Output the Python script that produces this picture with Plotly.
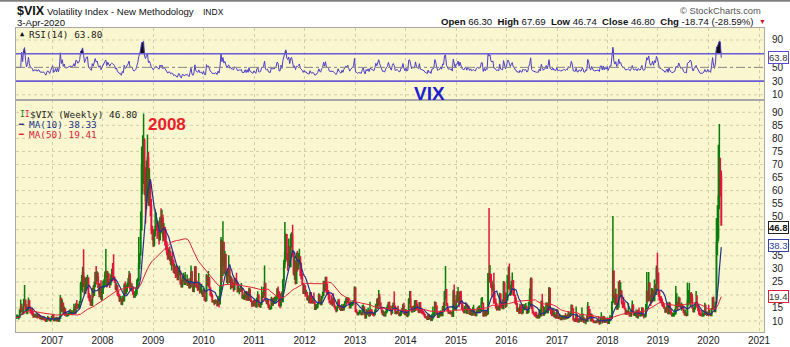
import numpy as np
import pandas as pd
import plotly.graph_objects as go

# ---------------- weekly VIX data (read / estimated from the chart) ----------------
c2006 = [11.2,11.4,11.6,11.6, 11.6,14.2,15.4,14.0, 12.9,16.5,18.0,15.2,13.1, 14.0,17.7,15.3,13.3,
         13.3,13.0,11.6,12.2, 11.9,12.2,11.5,12.0,11.9, 11.1,11.2,10.9,11.1, 11.0,10.5,10.0,10.7,
         11.0,10.6,10.2,10.9,11.6]
h2006 = [12.2,12.0,12.5,12.4, 12.0,14.5,18.3,16.6, 15.2,18.5,23.8,18.2,16.4, 15.5,19.0,18.2,15.6,
         14.5,14.8,13.4,12.8, 12.6,13.0,12.6,12.8,12.8, 12.2,11.9,11.6,11.8, 11.9,11.5,10.7,11.1,
         12.0,11.6,11.1,11.2,11.8]
l2006 = [10.6,10.9,10.9,11.1, 10.6,11.2,13.0,13.5, 12.5,13.0,15.8,14.2,12.8, 12.6,14.0,14.6,13.0,
         12.5,12.0,11.3,11.5, 11.3,11.4,11.0,11.1,11.2, 10.6,10.6,10.3,10.5, 10.3,10.1,9.6,9.9,
         10.4,10.2,9.9,9.7,10.7]

c2007 = [12.0,10.2,10.4,11.1, 10.1,11.1,10.0,11.2, 18.6,14.1,16.8,12.9,14.6, 12.2,12.0,12.1,12.5,
         12.9,13.2,12.8,13.0, 13.1,14.3,13.2,16.4,16.2, 15.2,15.6,17.2,24.2, 25.2,28.4,25.0,20.7,23.4,
         26.2,26.5,19.0,18.0, 17.5,16.1,22.0,19.9, 23.2,28.5,25.5,26.8,22.9, 20.8,22.5,18.5,20.7]
h2007 = [12.8,12.1,11.0,11.5, 11.6,11.5,10.8,11.8, 20.0,18.6,18.3,16.6,15.6, 14.8,13.5,13.0,13.3,
         13.9,14.6,14.2,14.2, 13.8,16.6,15.9,16.8,18.1, 16.5,16.6,17.8,25.0, 27.6,30.8,37.5,27.1,26.5,
         26.9,27.7,26.0,20.7, 20.0,18.4,22.7,23.7, 25.2,28.9,31.1,29.1,28.6, 24.6,24.4,25.6,22.9]
l2007 = [10.9,10.0,10.0,10.3, 10.0,10.0,9.9,10.2, 12.0,13.6,13.6,12.6,12.5, 12.1,11.9,11.8,11.9,
         12.2,12.4,12.5,12.2, 12.8,13.3,12.6,13.0,15.0, 14.5,15.1,14.9,17.4, 21.7,20.9,23.0,20.2,20.5,
         21.9,23.5,18.8,17.6, 15.9,15.8,16.3,19.0, 20.3,23.0,24.0,25.5,22.8, 19.1,19.1,18.4,17.7]

c2008 = [23.2,23.7,27.2,29.0, 24.0,28.0,25.0,24.1,26.5, 27.5,27.0,26.6,25.7, 22.5,23.5,20.0,19.7,
         18.2,18.3,16.5,19.0,17.8, 23.6,20.7,22.7,23.4, 24.9,27.5,22.5,22.9, 22.6,20.7,19.5,19.8,20.6,
         23.1,25.7,32.1,35.7, 45.1,70.0,70.3,79.1,59.9, 56.1,66.3,72.7,55.3, 59.9,54.3,44.9,43.4]
h2008 = [25.4,26.0,29.0,37.6, 27.8,29.1,27.6,26.1,27.8, 30.0,32.2,35.6,27.1, 24.9,24.5,23.3,21.6,
         20.5,19.6,18.6,19.7,19.4, 24.4,25.2,23.7,24.6, 26.5,29.2,28.5,24.7, 24.5,23.1,21.0,21.5,22.5,
         25.9,26.5,42.2,36.0, 52.0,76.9,81.2,89.5,80.1, 69.0,71.5,81.5,74.8, 68.6,63.5,56.8,46.5]
l2008 = [20.5,22.6,23.7,27.0, 22.9,24.8,24.2,22.7,23.6, 24.8,25.3,25.5,24.7, 21.8,21.4,19.8,19.1,
         17.3,17.6,16.3,16.1,17.5, 18.5,20.1,20.2,21.1, 23.0,23.8,21.6,21.5, 21.2,20.0,18.8,18.8,19.5,
         20.2,22.5,25.2,29.9, 35.0,44.6,58.6,62.5,58.2, 47.4,52.9,57.5,54.2, 54.0,50.3,43.4,41.0]

c2009 = [39.2,42.8,46.1,47.3,44.8, 43.4,41.2,49.3,46.4, 49.3,42.4,45.9,42.6, 39.7,36.5,33.9,35.8,
         35.3,32.1,33.1,32.6,28.9, 29.6,28.2,27.0,25.9, 29.0,29.0,24.3,23.1,25.9, 25.9,24.1,25.0,24.8,
         25.3,24.0,22.8,25.6, 28.7,23.1,21.4,23.1,30.7, 24.2,23.4,22.2,24.5, 21.3,21.6,21.7,19.5]
h2009 = [45.3,45.1,52.7,51.6,47.5, 48.4,44.6,50.0,53.2, 52.7,50.7,47.6,45.7, 45.2,40.6,38.4,37.8,
         38.6,36.9,34.8,36.6,33.6, 32.0,31.2,31.5,30.6, 29.8,31.2,29.4,25.9,27.4, 28.5,27.8,28.8,26.1,
         27.8,26.3,24.8,26.6, 31.3,29.3,23.6,25.2,31.0, 29.0,25.5,24.0,28.4, 24.4,23.4,24.3,21.0]
l2009 = [38.4,38.6,43.4,44.7,41.4, 42.1,39.3,42.0,44.2, 43.5,40.5,40.8,39.0, 37.1,35.2,33.5,33.9,
         33.0,31.4,29.4,31.0,28.4, 28.0,26.5,26.8,25.7, 25.9,27.5,24.1,23.0,23.4, 25.0,23.8,24.5,24.6,
         23.4,23.5,22.8,22.7, 25.8,22.9,21.1,21.0,23.0, 23.0,22.6,21.5,21.8, 20.5,20.8,20.2,19.3]

c2010 = [21.7,18.1,17.9,27.3,24.6, 26.1,22.7,20.0,19.5, 17.4,17.6,16.9,17.8, 17.5,16.1,18.4,16.6,22.1,
         40.9,31.2,40.1,32.1, 35.5,28.8,25.1,28.5, 30.1,24.9,26.3,23.5,23.5, 22.1,26.2,25.5,24.5,
         21.3,21.9,22.0,21.7, 22.5,18.9,19.1,19.1,21.2, 18.3,20.6,18.0,22.2, 18.0,17.6,16.1,16.0,17.8]
h2010 = [22.6,20.1,19.3,28.0,27.3, 29.2,27.0,22.9,21.3, 20.6,18.1,18.1,18.4, 18.3,17.5,19.7,18.5,23.6,
         42.2,35.0,48.2,35.6, 36.8,35.0,27.3,29.8, 35.2,30.2,27.5,27.0,26.0, 24.8,26.6,26.0,28.5,
         24.8,23.5,22.8,23.0, 24.6,22.8,20.1,21.0,21.4, 21.5,21.3,21.3,22.8, 22.0,18.9,17.6,16.9,18.1]
l2010 = [19.9,18.0,17.3,17.9,23.5, 23.1,22.6,19.8,19.1, 17.4,17.1,16.1,16.4, 16.7,15.6,16.0,15.2,16.9,
         20.1,24.9,27.3,27.9, 27.9,28.0,24.6,24.2, 27.0,24.6,22.1,22.6,22.7, 21.2,22.0,24.4,23.8,
         20.9,21.3,20.3,21.1, 21.1,18.5,18.4,18.1,19.0, 17.9,18.2,17.9,19.1, 17.8,17.6,15.4,15.6,15.8]

c2011 = [17.1,15.5,18.5,20.0, 15.9,15.7,16.4,19.2, 19.1,20.1,24.4,17.9, 17.4,17.9,15.3,14.7,14.8,
         18.4,17.1,17.4,17.1, 17.9,18.9,21.9,21.1, 15.9,15.9,20.0,17.5,25.3, 32.0,36.4,43.1,35.6,
         33.9,38.5,30.9,41.3,43.0, 36.3,28.2,31.3,24.5, 30.2,30.0,32.0,34.5, 27.5,26.3,24.3,20.7,23.4]
h2011 = [18.2,17.3,19.0,21.4, 19.6,16.5,17.2,23.2, 21.2,23.0,31.3,22.8, 17.9,18.4,18.0,16.3,15.6,
         19.3,18.9,18.8,19.2, 19.5,19.4,22.7,23.2, 18.5,17.5,20.8,21.4,26.1, 33.5,48.0,43.6,42.4,
         35.0,41.6,38.8,43.5,44.0, 46.9,36.9,34.8,33.3, 36.3,36.9,36.1,37.7, 34.4,32.3,28.2,24.0,24.1]
l2011 = [16.7,15.3,15.3,17.1, 15.9,15.2,15.0,16.4, 17.2,19.0,19.5,17.4, 16.5,16.1,15.3,14.3,14.3,
         15.7,15.8,15.9,16.8, 16.9,17.4,18.2,19.5, 15.9,14.9,16.1,17.2,17.6, 22.6,30.2,32.6,33.4,
         29.3,31.1,30.5,33.0,38.2, 34.6,27.5,25.8,24.0, 27.3,29.0,29.8,31.6, 27.5,25.9,24.1,20.4,20.6]

c2012 = [20.6,20.9,18.3,18.5, 17.1,20.8,17.8,17.3, 18.0,17.1,14.5,15.0,15.5, 16.7,19.6,17.4,16.3,
         19.2,19.9,25.1,21.8, 26.7,21.2,21.1,20.1,17.1, 17.1,16.7,17.1,16.7, 15.6,14.7,14.0,15.2,17.5,
         15.6,14.5,14.1,15.7, 14.3,16.1,17.1,18.0, 17.6,18.6,16.9,15.1,16.0, 16.6,17.0,17.8,22.7]
h2012 = [23.2,22.0,21.1,19.4, 20.0,21.1,21.1,18.5, 19.6,20.9,17.1,16.4,16.5, 17.2,20.7,20.4,18.5,
         19.6,21.2,25.4,24.4, 27.0,26.3,24.4,21.9,20.6, 18.0,19.9,18.9,20.7, 18.3,16.0,14.8,16.0,18.4,
         18.5,16.0,14.9,16.5, 15.8,16.6,17.7,18.8, 19.2,19.2,18.8,17.0,17.6, 17.3,17.5,18.1,23.3]
l2012 = [19.3,20.1,18.2,17.7, 17.0,17.0,16.6,16.7, 16.6,17.0,14.3,14.3,14.7, 15.1,16.8,17.0,16.1,
         16.4,18.6,20.3,20.9, 22.4,20.6,20.0,18.2,17.0, 16.2,16.3,15.7,16.2, 15.1,14.3,13.3,13.7,15.9,
         15.5,14.5,13.9,14.2, 14.0,14.4,15.3,17.1, 16.2,16.9,16.5,15.1,15.1, 15.9,15.8,16.2,17.6]

c2013 = [13.8,13.4,12.5,12.9, 12.9,13.0,12.5,14.2, 15.4,12.6,11.3,13.6,12.7, 13.9,12.1,14.0,13.6,
         12.9,12.6,12.5,13.8,16.3, 15.1,17.2,18.9,16.9, 14.9,14.0,12.5,12.7, 12.0,13.4,14.4,14.8,17.0,
         15.4,14.2,13.1,15.5, 16.7,15.7,13.0,13.1, 13.5,12.9,12.2,12.3,13.7, 13.8,15.8,13.8,12.5]
h2013 = [18.6,14.6,13.8,13.5, 14.3,14.2,13.2,16.1, 16.3,15.2,12.0,14.6,14.1, 15.2,14.0,17.4,14.6,
         14.5,13.2,13.2,14.4,16.3, 18.6,18.7,21.9,20.5, 17.2,15.0,14.0,14.0, 13.6,13.8,15.5,16.3,17.2,
         17.5,15.9,14.2,16.1, 17.1,21.3,15.6,13.8, 15.3,15.9,13.5,13.3,14.3, 15.0,16.6,17.0,13.8]
l2013 = [13.6,13.0,12.3,12.1, 12.6,12.6,12.3,12.3, 13.2,12.5,10.9,11.8,12.5, 12.1,11.6,12.5,12.9,
         12.3,11.9,11.7,12.1,13.6, 14.9,15.2,15.8,15.5, 14.5,13.0,12.2,11.8, 11.8,11.8,12.9,13.4,14.4,
         14.4,13.8,12.2,12.9, 15.6,15.0,12.9,12.5, 12.9,12.7,12.0,11.7,12.1, 12.8,13.6,12.7,12.2]

c2014 = [13.8,12.1,12.4,18.1,18.4, 15.3,13.6,14.7,14.0, 14.1,17.8,15.0,14.4, 13.9,17.0,13.4,13.3,
         12.9,12.9,12.4,11.4,11.4, 10.7,12.2,10.9,11.3, 10.3,12.1,12.1,12.7, 17.0,15.8,13.2,11.5,12.0,
         12.1,13.3,12.1,14.9, 14.6,21.2,22.0,16.1,14.0, 13.1,13.3,12.9,13.3, 11.8,21.1,16.5,14.5]
h2014 = [14.6,13.9,12.9,18.7,21.5, 21.5,15.4,15.7,16.0, 18.0,17.9,17.6,16.7, 14.4,17.3,17.3,15.2,
         14.7,13.9,13.4,12.6,11.9, 11.7,12.6,12.7,12.2, 11.4,12.8,15.6,13.3, 17.6,17.3,14.4,13.0,12.4,
         13.5,14.0,13.5,15.8, 17.2,21.3,31.1,20.8,16.9, 15.0,13.5,14.0,13.6, 13.8,22.0,24.0,15.7]
l2014 = [13.1,11.6,11.5,12.6,16.5, 15.1,13.5,13.6,13.7, 13.5,14.3,14.6,14.4, 13.1,13.0,13.3,13.0,
         12.6,12.4,11.6,11.4,11.0, 10.7,10.8,10.6,10.9, 10.3,10.6,10.6,11.8, 13.0,14.8,12.8,11.4,11.3,
         11.9,11.8,11.8,12.3, 13.9,14.2,18.2,15.8,13.9, 13.1,12.8,12.5,12.7, 11.8,12.6,16.2,14.3]

c2015 = [17.8,17.6,20.9,16.7,21.0, 17.3,14.7,14.3,13.3, 15.2,16.0,13.0,15.1, 14.7,12.6,13.9,12.3,
         12.7,12.9,12.4,12.1,13.8, 14.2,13.8,14.0,14.0, 16.8,16.8,12.0,13.7,12.1, 13.4,12.8,28.0,26.1,
         27.8,23.2,22.3,23.6, 17.1,17.1,15.1,14.5,15.1, 14.3,20.1,15.5,15.1, 14.8,24.4,20.7,15.7]
h2015 = [20.0,21.5,23.0,21.0,21.4, 21.6,17.8,16.3,14.6, 15.8,17.2,16.8,16.2, 16.0,14.5,14.6,14.4,
         15.3,16.2,14.6,13.0,13.9, 15.3,15.8,16.1,14.6, 18.9,19.2,14.2,14.2,14.3, 13.9,14.2,28.4,53.3,
         31.5,27.9,24.5,25.5, 28.5,20.8,18.6,16.9,15.8, 16.0,20.8,20.7,16.5, 18.4,25.3,25.2,19.2]
l2015 = [14.4,17.0,17.6,15.3,16.4, 16.7,15.0,13.6,13.0, 13.0,14.8,13.0,13.5, 14.2,12.6,12.5,12.2,
         12.5,12.5,12.4,11.8,12.3, 13.6,13.0,13.4,13.6, 15.9,16.4,12.1,11.8,12.0, 11.8,12.2,13.3,25.0,
         24.6,22.7,19.2,21.3, 16.6,16.7,14.9,13.9,14.3, 14.1,14.6,15.1,14.9, 14.6,15.8,16.9,15.0]

c2016 = [18.2,27.0,27.0,22.3,20.2, 23.4,25.4,20.5,19.8, 16.9,16.5,14.0,14.7, 13.1,15.4,13.6,13.2,15.7,
         14.7,15.0,15.2,13.1, 13.5,17.0,19.4,25.8, 14.8,13.2,12.7,12.0,11.9, 11.4,11.6,11.3,13.7,
         12.0,17.5,15.4,12.3,13.3, 13.5,16.1,13.3,16.2, 22.5,14.2,12.9,12.3, 14.1,11.8,12.2,11.4,14.0]
h2016 = [20.6,27.6,30.9,32.1,23.9, 25.3,28.6,25.6,22.6, 19.9,19.0,16.9,15.2, 15.0,16.6,16.3,14.4,16.5,
         16.4,16.4,16.9,15.9, 14.6,17.3,22.5,26.7, 26.7,16.2,13.9,13.2,13.6, 13.6,12.4,13.0,14.5,
         14.4,17.9,20.5,15.9,15.5, 14.2,17.2,16.9,17.2, 23.0,22.5,14.7,13.2, 14.9,14.2,13.4,12.0,14.6]
l2016 = [15.4,19.5,22.4,22.0,19.6, 20.4,23.2,19.7,19.5, 16.7,16.1,13.5,14.1, 13.0,14.0,13.2,12.5,13.3,
         14.4,14.1,14.2,13.0, 12.8,13.5,16.2,15.7, 14.7,13.1,12.5,11.7,11.8, 11.2,11.0,11.1,11.3,
         11.6,11.7,14.9,12.0,12.5, 12.7,13.0,13.0,13.3, 15.8,14.0,12.5,11.8, 12.1,11.5,11.3,10.9,11.5]

c2017 = [11.3,11.2,11.5,10.6, 11.0,10.9,11.5,11.5, 11.0,11.7,11.3,13.0,12.4, 12.9,16.0,14.6,10.8,
         10.6,10.4,12.0,9.8, 9.75,10.7,10.4,10.0,11.2, 11.2,9.5,9.4,10.3, 10.0,15.5,14.3,11.3,
         10.1,12.1,10.2,9.6,9.5, 9.65,9.6,10.0,9.8, 9.1,11.3,11.4,9.7, 11.4,9.6,10.5,9.9,11.0]
h2017 = [14.1,12.1,12.8,11.6, 12.2,12.1,12.2,12.2, 13.1,12.3,12.6,13.5,13.2, 13.3,16.3,15.9,12.9,
         11.1,11.0,15.6,12.8, 10.5,11.2,12.6,10.9,15.2, 12.9,11.6,9.9,11.1, 12.1,17.3,15.6,14.0,
         13.0,12.9,12.2,10.3,10.1, 10.2,10.3,10.7,11.9, 10.1,11.5,13.4,10.6, 12.0,11.9,11.4,10.3,11.0]
l2017 = [10.9,10.7,11.0,10.4, 10.6,10.5,10.6,10.6, 10.6,10.9,11.1,11.1,11.5, 11.6,12.8,13.9,10.1,
         9.6,9.6,9.7,9.7, 9.4,9.4,10.1,9.8,10.3, 10.5,9.4,9.3,8.8, 9.7,10.7,11.7,11.3,
         10.1,10.4,9.9,9.2,9.3, 9.2,9.2,9.5,9.4, 8.6,9.2,10.5,9.1, 9.4,9.3,9.5,9.3,9.3]

c2018 = [9.2,10.2,11.3,11.1, 17.3,29.1,19.5,16.5, 19.6,14.6,15.8,24.9,20.0, 21.5,17.4,16.9,15.4,
         14.8,12.7,13.4,13.2, 13.5,12.2,12.0,13.8,16.1, 13.4,12.2,12.9,13.0, 11.6,13.2,12.6,12.0,12.9,
         14.9,12.1,11.7,12.1, 14.8,21.3,19.9,24.2, 19.3,17.4,18.1,21.5,18.1, 23.2,21.6,30.1,28.3]
h2018 = [9.7,10.4,12.3,11.6, 17.3,50.3,29.1,20.6, 22.5,20.4,17.0,25.0,25.7, 25.0,21.6,17.4,19.3,
         17.4,14.9,14.2,14.1, 16.8,13.3,13.2,14.7,17.9, 16.4,13.4,13.3,14.4, 14.3,14.3,15.2,12.9,13.7,
         15.3,15.0,12.5,12.4, 16.5,28.8,21.3,28.8, 25.0,20.3,22.7,22.5,21.5, 25.9,24.1,31.3,36.2]
l2018 = [8.9,9.2,10.3,10.4, 11.0,16.8,18.9,16.2, 16.6,14.6,14.6,15.0,19.3, 19.2,16.3,15.0,15.4,
         14.4,12.6,12.6,12.4, 12.9,11.6,11.7,11.6,14.2, 12.4,11.9,12.1,11.4, 11.2,10.9,12.0,11.7,11.8,
         12.7,11.8,11.0,11.5, 11.4,14.8,17.2,17.6, 17.7,15.8,17.2,18.4,17.5, 17.6,20.2,20.0,24.0]

c2019 = [21.4,18.2,17.8,17.4, 16.1,15.7,14.9,13.5, 14.6,16.1,12.9,16.5,13.7, 12.8,12.0,12.1,12.7,
         12.9,16.0,16.0,15.9,18.7, 16.3,15.3,15.4,15.1, 13.3,12.4,12.5,12.2, 17.6,18.0,18.5,19.9,19.0,
         15.0,13.7,15.3,16.3, 17.0,15.6,14.3,12.7, 12.3,12.1,12.05,12.3,12.6, 13.6,12.6,12.5,13.4]
h2019 = [28.5,21.0,19.5,19.5, 18.6,17.3,16.4,14.6, 15.5,17.2,16.2,17.4,17.2, 14.4,13.3,13.3,13.3,
         14.7,23.4,20.7,17.4,19.4, 18.9,16.5,17.1,16.3, 16.0,14.1,14.4,13.3, 24.8,21.9,24.6,20.8,21.1,
         20.5,15.1,15.4,17.1, 21.5,19.9,16.4,15.0, 14.4,12.9,14.2,13.9,13.0, 17.0,16.3,13.6,13.5]
l2019 = [19.3,18.0,16.9,16.9, 15.6,15.2,14.7,13.3, 14.0,14.3,12.9,12.8,13.6, 12.4,11.9,11.8,11.6,
         12.2,13.8,15.1,14.2,15.4, 15.3,14.7,13.9,14.3, 13.0,12.3,12.0,11.7, 15.2,16.0,16.6,15.5,17.0,
         14.8,13.5,13.3,14.3, 16.5,15.1,13.8,12.6, 12.2,11.8,12.1,12.1,11.7, 12.7,12.3,11.9,12.1]

c2020 = [12.5,12.6,12.1,14.6,18.8, 15.5,13.7,17.1,40.1, 41.9,57.8,66.0,65.5, 46.8]
h2020 = [16.2,14.2,12.9,15.0,19.0, 19.4,15.6,17.4,49.5, 54.4,77.6,85.5,72.6, 67.7]
l2020 = [11.8,12.4,11.8,12.1,16.2, 14.5,13.4,13.9,19.0, 35.2,40.6,52.8,57.8, 46.7]

year_starts = ["2006-04-07", "2007-01-01", "2008-01-01", "2009-01-01", "2010-01-01", "2011-01-01",
               "2012-01-01", "2013-01-01", "2014-01-01", "2015-01-01", "2016-01-01", "2017-01-01",
               "2018-01-01", "2019-01-01", "2020-01-01"]
closes = [c2006, c2007, c2008, c2009, c2010, c2011, c2012, c2013, c2014, c2015, c2016, c2017, c2018, c2019, c2020]
highs = [h2006, h2007, h2008, h2009, h2010, h2011, h2012, h2013, h2014, h2015, h2016, h2017, h2018, h2019, h2020]
lows = [l2006, l2007, l2008, l2009, l2010, l2011, l2012, l2013, l2014, l2015, l2016, l2017, l2018, l2019, l2020]

header_left = "$VIX"
header_name = "Volatility Index - New Methodology"
header_exch = "INDX"
header_date = "3-Apr-2020"
quote = dict(Open="66.30", High="67.69", Low="46.74", Close="46.80", Chg="-18.74 (-28.59%)")
legend_price = "46.80"
legend_ma10 = "38.33"
legend_ma50 = "19.41"
legend_rsi = "63.80"
grid_main = list(range(10, 95, 5))
labels_main = [v for v in grid_main if v not in (20, 40, 45)]   # hidden behind the value flags
grid_rsi = [10, 30, 50, 70, 90]
labels_rsi = [10, 30, 50, 90]                                   # 70 hidden behind the RSI flag

# ---------------- assemble ----------------
dates, C, H, L = [], [], [], []
for s, c, h, l in zip(year_starts, closes, highs, lows):
    d = pd.date_range(start=s, periods=len(c), freq="W-FRI")
    dates.extend(d)
    C.extend(c); H.extend(h); L.extend(l)
dates = pd.DatetimeIndex(dates)
close = pd.Series(C, index=dates, dtype=float)
high = np.maximum(np.array(H, float), close.values)
low = np.minimum(np.array(L, float), close.values)
openp = close.shift(1).fillna(close.iloc[0]).values

ma10 = close.rolling(10, min_periods=1).mean()
ma50 = close.rolling(50, min_periods=1).mean()

delta = close.diff().fillna(0)
gain = delta.clip(lower=0)
loss = -delta.clip(upper=0)
ag = gain.ewm(alpha=1/14, adjust=False).mean()
al = loss.ewm(alpha=1/14, adjust=False).mean()
rsi = 100 - 100 / (1 + ag / al.replace(0, np.nan))
rsi = rsi.fillna(50)

GREEN = "#0A7D0A"
RED = "#E0143C"
BG = "#FAF7D0"
GRID = "#D2CEA8"
FRAME = "#A8A8A8"
PURPLE = "#6A5BD6"
RSI_LINE = "#4B3CC8"

fig = go.Figure()

# RSI panel
fig.add_trace(go.Scatter(x=dates, y=[70] * len(dates), mode="lines", line=dict(width=0, color="rgba(0,0,0,0)"),
                         xaxis="x2", yaxis="y2", hoverinfo="skip"))
fig.add_trace(go.Scatter(x=dates, y=np.maximum(rsi.values, 70), mode="lines", line=dict(width=0, color="rgba(0,0,0,0)"),
                         fill="tonexty", fillcolor="#111111", xaxis="x2", yaxis="y2", hoverinfo="skip"))
fig.add_trace(go.Scatter(x=dates, y=rsi.values, mode="lines", line=dict(width=1, color=RSI_LINE),
                         xaxis="x2", yaxis="y2"))

# price candles
fig.add_trace(go.Candlestick(x=dates, open=openp, high=high, low=low, close=close.values,
                             increasing=dict(line=dict(color=GREEN, width=1.5), fillcolor=GREEN),
                             decreasing=dict(line=dict(color=RED, width=1.5), fillcolor=RED),
                             whiskerwidth=0, xaxis="x", yaxis="y"))
fig.add_trace(go.Scatter(x=dates, y=ma10.values, mode="lines", line=dict(width=1.2, color="#22308A"),
                         xaxis="x", yaxis="y"))
fig.add_trace(go.Scatter(x=dates, y=ma50.values, mode="lines", line=dict(width=1, color="#E0203A"),
                         xaxis="x", yaxis="y"))

# plot area geometry in pixels: x 16..764, y 28..332
X0, X1, Y0, Y1 = 16, 764, 28, 332
def px(xp, yp):
    return (xp - X0) / (X1 - X0), (Y1 - yp) / (Y1 - Y0)

TICKFONT = dict(family="Liberation Sans, Arial, sans-serif", size=10, color="#222222")
axis_common = dict(showgrid=False, showline=True, mirror=True, automargin=False,
                   linecolor=FRAME, linewidth=1, zeroline=False, ticks="", fixedrange=True)
xgrid = dict(showgrid=True, gridcolor=GRID, griddash="dot", gridwidth=1)
axis_nogrid = {k: v for k, v in axis_common.items() if k != "showgrid"}
xrange = ["2006-04-15", "2021-02-06"]

fig.update_layout(
    width=790, height=347, margin=dict(l=X0, r=790 - X1, t=Y0, b=347 - Y1),
    paper_bgcolor="white", plot_bgcolor=BG, showlegend=False,
    xaxis=dict(domain=[0, 1], anchor="y", type="date", range=xrange, rangeslider=dict(visible=False),
               dtick="M12", tick0="2007-01-01", tickformat="%Y", tickfont=TICKFONT, ticklabelstandoff=-1,
               **xgrid, **axis_nogrid),
    xaxis2=dict(domain=[0, 1], anchor="y2", type="date", range=xrange, matches="x", showticklabels=False,
                dtick="M12", tick0="2007-01-01", **xgrid, **axis_nogrid),
    yaxis=dict(domain=[0, 0.763], range=[5.8, 94.7], side="right", tickvals=labels_main,
               tickfont=TICKFONT, ticklabelstandoff=5, **axis_common),
    yaxis2=dict(domain=[0.763, 1], range=[2.3, 107.5], side="right", tickvals=labels_rsi,
                tickfont=TICKFONT, ticklabelstandoff=5, **axis_common),
)

# horizontal dotted gridlines (drawn below the data)
for v in grid_main:
    fig.add_shape(type="line", xref="x domain", yref="y", x0=0, x1=1, y0=v, y1=v, layer="below",
                  line=dict(color=GRID, width=1, dash="dot"))
for v in grid_rsi:
    fig.add_shape(type="line", xref="x2 domain", yref="y2", x0=0, x1=1, y0=v, y1=v, layer="below",
                  line=dict(color=GRID, width=1, dash="dot"))

# RSI reference lines
for lvl in (70, 30):
    fig.add_shape(type="line", xref="x2 domain", yref="y2", x0=0, x1=1, y0=lvl, y1=lvl,
                  line=dict(color=PURPLE, width=1.6))
fig.add_shape(type="line", xref="x2 domain", yref="y2", x0=0, x1=1, y0=50, y1=50,
              line=dict(color="#8A8A8A", width=1, dash="dashdot"))

# top border line of the image
fig.add_shape(type="line", xref="paper", yref="paper", x0=px(0, 0)[0], x1=px(790, 0)[0],
              y0=px(0, 0.8)[1], y1=px(0, 0.8)[1], line=dict(color="#808080", width=2))

def ann(xp, yp, text, size=10, color="#111111", anchor="left", family="Liberation Sans, Arial, sans-serif", **kw):
    x, y = px(xp, yp)
    fig.add_annotation(xref="paper", yref="paper", x=x, y=y, text=text, showarrow=False,
                       xanchor=anchor, yanchor="middle", font=dict(size=size, color=color, family=family), **kw)

# header
ann(15, 11, f"<b>{header_left}</b>", size=12.5)
ann(45, 11.5, header_name, size=9.6)
ann(201, 11.5, header_exch, size=8.5)
ann(15, 23, header_date, size=9.6)
ann(763, 10, "© StockCharts.com", size=9.4, color="#555555", anchor="right")
qtxt = "  ".join(f"<b>{k}</b> {v}" for k, v in quote.items())
ann(756, 21.5, qtxt, size=9.6, anchor="right")
ann(757, 21.5, "▼", size=7, color="#D0102A")

MONO = "DejaVu Sans Mono, monospace"
# RSI legend
ann(18, 34, "▲", size=7, color="#111111", family=MONO)
ann(27, 34, f"RSI(14) {legend_rsi}", size=9.4, color="#222222", family=MONO)
# price legend
ann(18, 114, "<span style='color:#0A7D0A'>I</span><span style='color:#E0143C'>I</span>", size=8, family=MONO)
ann(28, 114, f"$VIX (Weekly) {legend_price}", size=9.4, color="#222222", family=MONO)
ann(16, 124.5, "<span style='color:#22308A'>━</span>", size=8, family=MONO)
ann(27, 124.5, f"MA(10) {legend_ma10}", size=9.4, color="#22308A", family=MONO)
ann(16, 134.5, "<span style='color:#E0203A'>━</span>", size=8, family=MONO)
ann(27, 134.5, f"MA(50) {legend_ma50}", size=9.4, color="#E0203A", family=MONO)

# chart notes
ann(167, 124, "<b>2008</b>", size=17, color="#E8202A", anchor="center")
ann(429, 93.5, "<b>VIX</b>", size=19, color="#1E1ED2", anchor="center")

# right-edge value flags
def flag(yval, yref, text, color, txtcolor, bold=False, yshift=0):
    t = f"<b>{text}</b>" if bold else text
    fig.add_annotation(xref="paper", yref=yref, x=1.0, y=yval, xshift=4, yshift=yshift, text=t, showarrow=False,
                       xanchor="left", yanchor="middle", bgcolor="white", bordercolor=color, borderwidth=1,
                       borderpad=0, font=dict(size=9.5, color=txtcolor, family="Liberation Sans, Arial, sans-serif"))

flag(float(close.iloc[-1]), "y", "46.8", "#222222", "#111111", bold=True, yshift=-2)
flag(float(ma10.iloc[-1]), "y", "38.3", "#3040A0", "#3040A0", yshift=2)
flag(float(ma50.iloc[-1]), "y", "19.4", "#E0203A", "#333333")
flag(float(rsi.iloc[-1]), "y2", "63.8", "#5A4BD0", "#333333")

fig.write_html("out.html")
